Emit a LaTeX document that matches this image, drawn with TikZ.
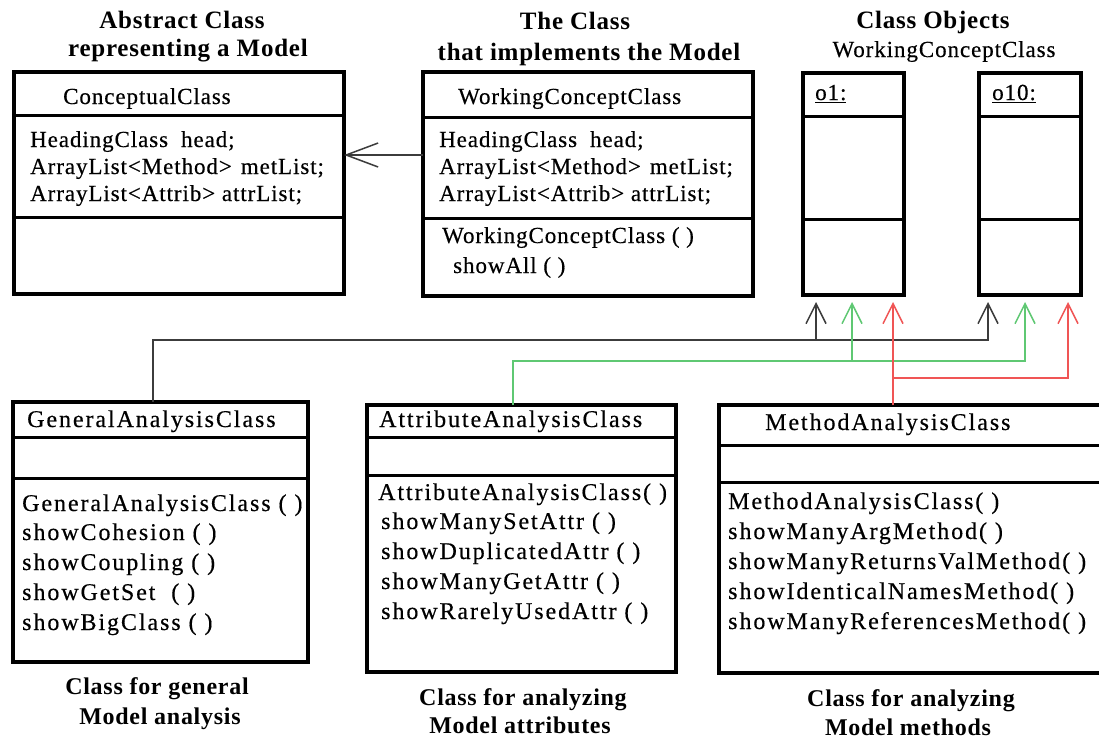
\documentclass[tikz,border=0pt]{standalone}
\usepackage{fontspec}
\setmainfont{Liberation Serif}[LetterSpace=3]
\newfontfamily\regfont{Liberation Serif}[LetterSpace=4,FakeBold=0.4]
\newfontfamily\widefont{Liberation Serif}[LetterSpace=8,FakeBold=0.4]
\usetikzlibrary{arrows.meta,calc}
\definecolor{lg}{RGB}{95,200,115}
\definecolor{lr}{RGB}{240,85,85}
\definecolor{lk}{RGB}{60,60,60}
\tikzset{
 box/.style={draw=black,line width=3.5pt,anchor=north west,inner sep=0pt,outer sep=0pt,fill=white},
 sepline/.style={line width=3pt},
 txt/.style={anchor=west,inner sep=0pt,text height=17pt,text depth=3pt,font=\regfont\fontsize{23}{27}\selectfont},
 btxt/.style={anchor=west,inner sep=0pt,text height=17pt,text depth=3pt,font=\widefont\fontsize{24}{28}\selectfont},
 ttl/.style={anchor=center,inner sep=0pt,text height=18pt,text depth=1pt,font=\fontsize{25}{29}\selectfont\bfseries},
 capt/.style={anchor=center,inner sep=0pt,text height=18pt,text depth=1pt,font=\fontsize{24}{28}\selectfont\bfseries},
 conn/.style={line width=1.5pt},
 uparr/.style={-{Straight Barb[length=20pt,width=20pt]}},
 inharr/.style={-{Straight Barb[length=32pt,width=24pt]}}
}
\begin{document}
\begin{tikzpicture}[x=1pt,y=-1pt]
\useasboundingbox[fill=white] (0,0) rectangle (1099,740);

% ---------- titles ----------
\node[ttl] (t1a) at (182,20) {Abstract Class};
\node[ttl] (t1b) at (188,48) {representing a Model};
\node[ttl] (t2a) at (575,21) {The Class};
\node[ttl] (t2b) at (589,52) {that implements the Model};
\node[ttl] (t3a) at (933,20) {Class Objects};
\node[txt,anchor=center] (t3b) at (944,50) {WorkingConceptClass};

% ---------- ConceptualClass ----------
\node[box,minimum width=330pt,minimum height=222pt] (cc) at (14,72) {};
\draw[sepline] (14,115) -- (344,115) (14,217) -- (344,217);
\node[txt] (ccn) at (63,97) {ConceptualClass};
\node[txt] (cca1) at (30,140) {HeadingClass\hbox to 13pt{}head;};
\node[txt] (cca2) at (30,167) {ArrayList<Method>\hbox to 9pt{}metList;};
\node[txt] (cca3) at (30,194) {ArrayList<Attrib> attrList;};

% ---------- WorkingConceptClass ----------
\node[box,minimum width=330pt,minimum height=224pt] (wcc) at (423,72) {};
\draw[sepline] (423,117) -- (753,117) (423,218) -- (753,218);
\node[txt] (wccn) at (458,97) {WorkingConceptClass};
\node[txt] (wcca1) at (439,140) {HeadingClass\hbox to 13pt{}head;};
\node[txt] (wcca2) at (439,167) {ArrayList<Method>\hbox to 9pt{}metList;};
\node[txt] (wcca3) at (439,194) {ArrayList<Attrib> attrList;};
\node[txt] (wccm1) at (442,236) {WorkingConceptClass ( )};
\node[txt] (wccm2) at (453,266) {showAll ( )};

% ---------- objects ----------
\node[box,minimum width=101pt,minimum height=222pt] (o1) at (803,73) {};
\draw[sepline] (803,116) -- (904,116) (803,219) -- (904,219);
\node[txt] (o1n) at (815,93) {\underline{o1:}};
\node[box,minimum width=102pt,minimum height=222pt] (o10) at (979,73) {};
\draw[sepline] (979,116) -- (1081,116) (979,219) -- (1081,219);
\node[txt] (o10n) at (992,93) {\underline{o10:}};

% ---------- GeneralAnalysisClass ----------
\node[box,minimum width=295pt,minimum height=260pt] (gac) at (13,402) {};
\draw[sepline] (13,437) -- (308,437) (13,478) -- (308,478);
\node[btxt] (gacn) at (27,420) {GeneralAnalysisClass};
\node[btxt] (gacm1) at (22,504) {GeneralAnalysisClass ( )};
\node[btxt] (gacm2) at (22,533) {showCohesion ( )};
\node[btxt] (gacm3) at (22,563) {showCoupling ( )};
\node[btxt] (gacm4) at (22,593) {showGetSet~ ( )};
\node[btxt] (gacm5) at (22,623) {showBigClass ( )};
\node[capt] (gacc1) at (157,686) {Class for general};
\node[capt] (gacc2) at (160,716) {Model analysis};

% ---------- AttributeAnalysisClass ----------
\node[box,minimum width=309pt,minimum height=267pt] (aac) at (367,405) {};
\draw[sepline] (367,437) -- (676,437) (367,475) -- (676,475);
\node[btxt] (aacn) at (379,420) {AttributeAnalysisClass};
\node[btxt] (aacm1) at (378,493) {AttributeAnalysisClass( )};
\node[btxt] (aacm2) at (381,522) {showManySetAttr ( )};
\node[btxt] (aacm3) at (381,552) {showDuplicatedAttr ( )};
\node[btxt] (aacm4) at (381,582) {showManyGetAttr ( )};
\node[btxt] (aacm5) at (381,612) {showRarelyUsedAttr ( )};
\node[capt] (aacc1) at (523,697) {Class for analyzing};
\node[capt] (aacc2) at (520,725) {Model attributes};

% ---------- MethodAnalysisClass (cut at right edge) ----------
\node[anchor=north west,inner sep=0pt,outer sep=0pt,minimum width=380pt,minimum height=268pt] (mac) at (719,405) {};
\draw[line width=3.5pt,fill=white] (1099,405) -- (719,405) -- (719,673) -- (1099,673);
\draw[sepline] (719,445) -- (1099,445) (719,482) -- (1099,482);
\node[btxt] (macn) at (765,423) {MethodAnalysisClass};
\node[btxt] (macm1) at (728,502) {MethodAnalysisClass( )};
\node[btxt] (macm2) at (728,532) {showManyArgMethod( )};
\node[btxt] (macm3) at (728,562) {showManyReturnsValMethod( )};
\node[btxt] (macm4) at (728,592) {showIdenticalNamesMethod( )};
\node[btxt] (macm5) at (728,622) {showManyReferencesMethod( )};
\node[capt] (macc1) at (911,698) {Class for analyzing};
\node[capt] (macc2) at (908,727) {Model methods};

% ---------- inheritance arrow ----------
\coordinate (ih) at (400,155);
\draw[conn,color=lk,inharr] (ih -| wcc.west) -- (ih -| cc.east);

% ---------- arrow tips under objects ----------
\coordinate (t1k) at (816,302);
\coordinate (t1g) at (852,302);
\coordinate (t1r) at (893,302);
\coordinate (t2k) at (988,302);
\coordinate (t2g) at (1025,302);
\coordinate (t2r) at (1068,302);
\coordinate (kb) at (153,340);
\coordinate (gb) at (513,361);
\coordinate (rb) at (893,378);

% black: general analysis
\draw[conn,color=lk,uparr] (kb |- gac.north) -- (kb) -- (kb -| t2k) -- (t2k);
\draw[conn,color=lk,uparr] (kb -| t1k) -- (t1k);
% green: attribute analysis
\draw[conn,color=lg,uparr] (gb |- aac.north) -- (gb) -- (gb -| t2g) -- (t2g);
\draw[conn,color=lg,uparr] (gb -| t1g) -- (t1g);
% red: method analysis
\draw[conn,color=lr,uparr] (rb |- mac.north) -- (t1r);
\draw[conn,color=lr,uparr] (rb) -- (rb -| t2r) -- (t2r);
\end{tikzpicture}
\end{document}
